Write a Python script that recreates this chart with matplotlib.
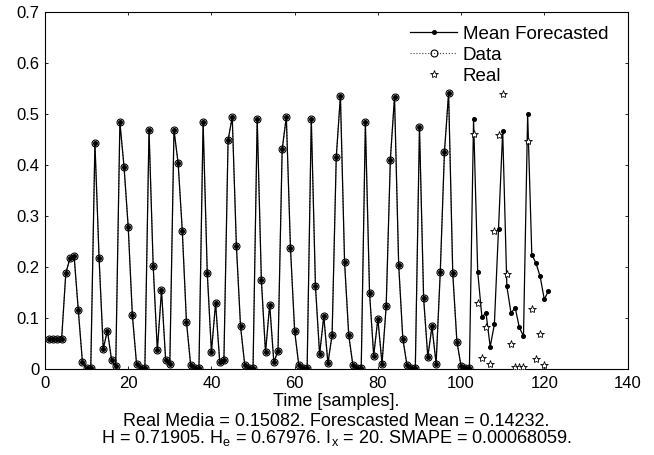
import numpy as np
import matplotlib
matplotlib.use('Agg')
from matplotlib import pyplot as plt

plt.rcParams['font.family'] = ['Liberation Sans', 'DejaVu Sans']
plt.rcParams['mathtext.fontset'] = 'custom'
plt.rcParams['mathtext.rm'] = 'Liberation Sans'
plt.rcParams['mathtext.it'] = 'Liberation Sans:italic'

# Observed series, samples 1..102
data_y = [0.060, 0.060, 0.060, 0.060, 0.188, 0.218, 0.222, 0.116, 0.014, 0.002,
          0.002, 0.444, 0.218, 0.040, 0.076, 0.018, 0.006, 0.484, 0.397, 0.279,
          0.106, 0.011, 0.002, 0.002, 0.469, 0.203, 0.037, 0.155, 0.018, 0.011,
          0.469, 0.404, 0.271, 0.093, 0.009, 0.002, 0.002, 0.484, 0.189, 0.034,
          0.130, 0.014, 0.019, 0.449, 0.495, 0.242, 0.084, 0.009, 0.002, 0.002,
          0.491, 0.175, 0.033, 0.127, 0.014, 0.036, 0.431, 0.495, 0.237, 0.075,
          0.008, 0.002, 0.002, 0.491, 0.163, 0.029, 0.104, 0.012, 0.067, 0.416,
          0.536, 0.210, 0.067, 0.008, 0.002, 0.002, 0.484, 0.150, 0.027, 0.099,
          0.011, 0.124, 0.411, 0.534, 0.205, 0.060, 0.008, 0.002, 0.002, 0.475,
          0.139, 0.024, 0.084, 0.011, 0.191, 0.426, 0.542, 0.188, 0.054, 0.006,
          0.002, 0.002]
data_x = list(range(1, len(data_y) + 1))

# Mean forecast after the data, samples 103..121
fc_tail = [0.490, 0.191, 0.103, 0.110, 0.044, 0.088, 0.276, 0.467, 0.163, 0.110,
           0.121, 0.082, 0.065, 0.500, 0.225, 0.208, 0.182, 0.137, 0.154]
fc_y = data_y + fc_tail
fc_x = list(range(1, len(fc_y) + 1))

# Real values, samples 103..120
real_y = [0.462, 0.129, 0.023, 0.082, 0.010, 0.271, 0.459, 0.539, 0.186, 0.049,
          0.005, 0.004, 0.004, 0.448, 0.118, 0.021, 0.070, 0.008]
real_x = list(range(103, 103 + len(real_y)))

xticks = [0, 20, 40, 60, 80, 100, 120, 140]
yticks = [0, 0.1, 0.2, 0.3, 0.4, 0.5, 0.6, 0.7]
ytick_labels = ['0', '0.1', '0.2', '0.3', '0.4', '0.5', '0.6', '0.7']

xlabel_top = 'Time [samples].'
stats_lines = ['Real Media = 0.15082. Forescasted Mean = 0.14232.',
               r'H = 0.71905. H$_\mathrm{e}$ = 0.67976. I$_\mathrm{x}$ = 20. SMAPE = 0.00068059.']

fig = plt.figure(figsize=(6.54, 4.55), dpi=100)
ax = fig.add_axes([0.0688, 0.1884, 0.8907, 0.7846])

ax.plot(fc_x, fc_y, '-', color='black', lw=0.9, marker='o', ms=2.6,
        mfc='black', mec='black', label='Mean Forecasted', zorder=3)
ax.plot(data_x, data_y, ':', color='#444444', lw=0.8, marker='o', ms=5.0,
        mfc='none', mec='black', mew=0.8, label='Data', zorder=2)
ax.plot(real_x, real_y, linestyle='none', marker='*', ms=6, mfc='white',
        mec='black', mew=0.6, label='Real', zorder=4)

ax.set_xlim(0, 140)
ax.set_ylim(0, 0.7)
ax.set_xticks(xticks)
ax.set_yticks(yticks)
ax.set_yticklabels(ytick_labels)
ax.tick_params(direction='in', length=2.5, width=0.6, top=True, right=True,
               labelsize=12)
ax.tick_params(axis='x', pad=5)
ax.tick_params(axis='y', pad=4)
for s in ax.spines.values():
    s.set_linewidth(0.8)

ax.legend(loc='upper left', bbox_to_anchor=(0.627, 0.962), frameon=False,
          fontsize=13.5, handlelength=2.5, handletextpad=0.3, borderpad=0,
          borderaxespad=0, labelspacing=0.2)

xc = 0.0688 + 0.8907 / 2
fig.text(xc, 0.107, xlabel_top, ha='center', va='baseline', fontsize=13)
fig.text(xc, 0.027, '\n'.join(stats_lines), ha='center', va='baseline',
         fontsize=13, linespacing=0.88, multialignment='center')

fig.savefig('out.png', dpi=100)
